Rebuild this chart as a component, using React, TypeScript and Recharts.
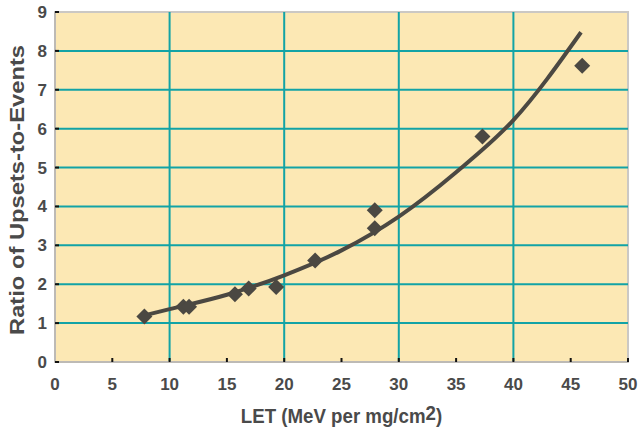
import React from "react";
import {
  ComposedChart,
  Line,
  Scatter,
  XAxis,
  YAxis,
  CartesianGrid,
  ReferenceLine,
  ReferenceArea,
} from "recharts";

// measured points (LET, ratio)
const letValues = [7.8, 11.2, 11.7, 15.7, 16.9, 19.3, 22.7, 27.9, 27.9, 37.3, 46.0];
const ratioValues = [1.17, 1.42, 1.42, 1.74, 1.89, 1.93, 2.61, 3.9, 3.44, 5.8, 7.62];

// fitted curve
const fitLet = [7.8, 10, 15, 20, 25, 30, 35, 40, 45.9];
const fitRatio = [1.2, 1.36, 1.73, 2.23, 2.87, 3.74, 4.88, 6.22, 8.48];

const xTicks = [0, 5, 10, 15, 20, 25, 30, 35, 40, 45, 50];
const yTicks = [0, 1, 2, 3, 4, 5, 6, 7, 8, 9];
const gridX = [10, 20, 30, 40];
const gridY = [1, 2, 3, 4, 5, 6, 7, 8];

const points = letValues.map((x, i) => ({ x, y: ratioValues[i] }));
const fit = fitLet.map((x, i) => ({ x, y: fitRatio[i] }));

const TEXT = "#4a4a4a";
const DARK = "#4b4842";
const TEAL = "#12a3a6";
const FONT = "'Liberation Sans', Arial, sans-serif";

function Diamond(props: any) {
  const { cx, cy } = props;
  const r = 8;
  return (
    <path
      d={`M${cx},${cy - r} L${cx + r},${cy} L${cx},${cy + r} L${cx - r},${cy} Z`}
      fill={DARK}
    />
  );
}

function XTick(props: any) {
  const { x, y, payload } = props;
  return (
    <text x={x} y={y + 12} textAnchor="middle" fill={TEXT} fontSize={17} fontWeight="bold" fontFamily={FONT}>
      {payload.value}
    </text>
  );
}

function YTick(props: any) {
  const { x, y, payload } = props;
  return (
    <text x={x} y={y + 6} textAnchor="end" fill={TEXT} fontSize={17} fontWeight="bold" fontFamily={FONT}>
      {payload.value}
    </text>
  );
}

function XTitle(props: any) {
  const vb = props.viewBox || {};
  const cx = vb.x + vb.width / 2;
  return (
    <g transform={`translate(${cx}, ${vb.y + 61}) scale(0.89, 1)`}>
      <text x={0} y={0} textAnchor="middle" fill={TEXT} fontSize={21} fontWeight="bold" fontFamily={FONT}>
        LET (MeV per mg/cm<tspan dy={-3}>2</tspan><tspan dy={3}>)</tspan>
      </text>
    </g>
  );
}

function YTitle(props: any) {
  const vb = props.viewBox || {};
  const cy = vb.y + vb.height / 2 + 3;
  const x = 24;
  return (
    <text
      x={x}
      y={cy}
      transform={`rotate(-90, ${x}, ${cy})`}
      textAnchor="middle"
      fill={TEXT}
      fontSize={21}
      fontWeight="bold"
      fontFamily={FONT}
      textLength={290}
      lengthAdjust="spacingAndGlyphs"
    >
      Ratio of Upsets-to-Events
    </text>
  );
}

export default function App() {
  return (
    <div style={{ position: "fixed", left: 0, top: 0, width: 641, height: 431, background: "#fff" }}>
      <ComposedChart width={641} height={431} margin={{ top: 12, right: 13, left: 0, bottom: 0 }}>
        <CartesianGrid horizontal={false} vertical={false} fill="#fce8b4" />
        {gridY.map((v) => (
          <ReferenceLine key={`gy${v}`} y={v} stroke={TEAL} strokeWidth={2} />
        ))}
        {gridX.map((v) => (
          <ReferenceLine key={`gx${v}`} x={v} stroke={TEAL} strokeWidth={2} />
        ))}
        <ReferenceArea x1={0} x2={50} y1={0} y2={9} fill="none" stroke="#cbc8c4" strokeWidth={2} />
        <XAxis
          dataKey="x"
          type="number"
          domain={[0, 50]}
          ticks={xTicks}
          height={69}
          tickSize={-4}
          tickMargin={20}
          tick={<XTick />}
          tickLine={{ stroke: "#111", strokeWidth: 2 }}
          axisLine={{ stroke: "#bdbab5", strokeWidth: 2 }}
          label={<XTitle />}
          allowDuplicatedCategory={false}
        />
        <YAxis
          dataKey="y"
          type="number"
          domain={[0, 9]}
          ticks={yTicks}
          width={55}
          tickSize={-4}
          tickMargin={12}
          tick={<YTick />}
          tickLine={{ stroke: "#111", strokeWidth: 2 }}
          axisLine={{ stroke: "#bdbab5", strokeWidth: 2 }}
          label={<YTitle />}
        />
        <Line
          data={fit}
          dataKey="y"
          type="monotone"
          stroke={DARK}
          strokeWidth={4}
          dot={false}
          activeDot={false}
          isAnimationActive={false}
        />
        <Scatter data={points} dataKey="y" shape={<Diamond />} isAnimationActive={false} />
      </ComposedChart>
    </div>
  );
}
